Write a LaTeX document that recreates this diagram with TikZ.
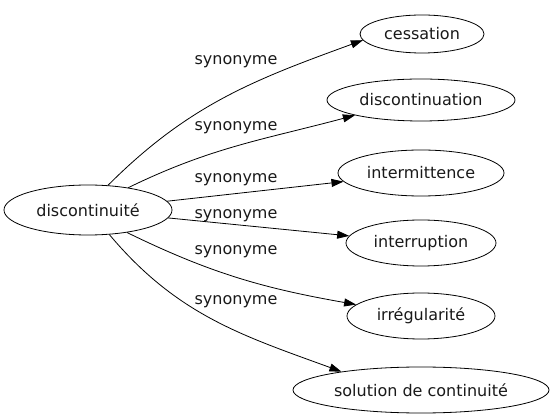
\documentclass[tikz,border=0pt]{standalone}
\usepackage{fontspec}
\setmainfont{DejaVu Sans}
\usetikzlibrary{shapes.geometric,arrows.meta}

\tikzset{
    word/.style={ellipse, draw, line width=0.8pt, inner sep=0pt, font=\fontsize{16}{18}\selectfont, text=black!90},
    syn/.style={font=\fontsize{16}{18}\selectfont, text=black!90},
    rel/.style={-{Triangle[length=12pt,width=8pt]}, line width=0.8pt}
}

\begin{document}
\begin{tikzpicture}[x=1pt, y=-1pt]

        \useasboundingbox (0,0) rectangle (554,419);

        % Words
        \node[word, minimum width=168pt, minimum height=50pt] (src) at (88,210) {discontinuité};

        \node[word, minimum width=124pt, minimum height=38pt] (cess) at (422,34) {cessation};
        \node[word, minimum width=188pt, minimum height=42pt] (discn) at (421,100) {discontinuation};
        \node[word, minimum width=166pt, minimum height=46pt] (inter) at (421,173) {intermittence};
        \node[word, minimum width=150pt, minimum height=46pt] (interr) at (421,243) {interruption};
        \node[word, minimum width=148pt, minimum height=46pt] (irreg) at (421,316) {irrégularité};
        \node[word, minimum width=256pt, minimum height=46pt] (sol) at (421,390) {solution de continuité};

        % Labels
        \node[syn] (l1) at (236,62) {synonyme};
        \node[syn] (l2) at (236,128) {synonyme};
        \node[syn] (l3) at (236,180) {synonyme};
        \node[syn] (l4) at (236,216) {synonyme};
        \node[syn] (l5) at (236,252) {synonyme};
        \node[syn] (l6) at (236,302) {synonyme};

        % Edges
        \draw[rel] (src.51) to[out=45, in=200] (cess.186);
        \draw[rel] (src.29) to[out=26, in=195] (discn.193);
        \draw[rel] (src) -- (inter);
        \draw[rel] (src) -- (interr);
        \draw[rel] (src.-30) to[out=-26, in=170] (irreg.170);
        \draw[rel] (src.-49) to[out=-50, in=160] (sol.167);

\end{tikzpicture}
\end{document}
